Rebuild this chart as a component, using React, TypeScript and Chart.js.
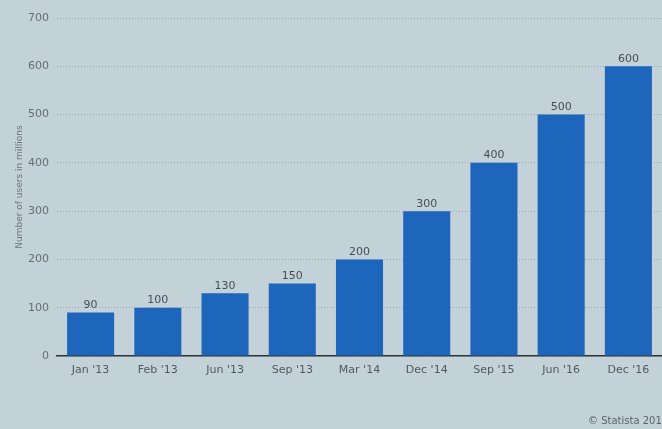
import React, { useEffect, useRef } from "react";
import { Chart, registerables } from "chart.js";

Chart.register(...registerables);

const categories = ["Jan '13", "Feb '13", "Jun '13", "Sep '13", "Mar '14", "Dec '14", "Sep '15", "Jun '16", "Dec '16"];
const users = [90, 100, 130, 150, 200, 300, 400, 500, 600];
const yTicks = [0, 100, 200, 300, 400, 500, 600, 700];
const axisTitle = "Number of users in millions";
const credit = "© Statista 2017";

const FONT = "'DejaVu Sans', sans-serif";

export default function App() {
  const ref = useRef<HTMLCanvasElement | null>(null);
  useEffect(() => {
    document.body.style.margin = "0";
    const canvas = ref.current!;
    const bgPlugin = {
      id: "bg",
      beforeDraw(chart: any) {
        const { ctx, width, height } = chart;
        ctx.save();
        ctx.fillStyle = "#c2d2d8";
        ctx.fillRect(0, 0, width, height);
        ctx.restore();
      },
    };
    const labelPlugin = {
      id: "labels",
      afterDatasetsDraw(chart: any) {
        const { ctx } = chart;
        const meta = chart.getDatasetMeta(0);
        ctx.save();
        ctx.font = `11px ${FONT}`;
        ctx.fillStyle = "#464e53";
        ctx.textAlign = "center";
        ctx.textBaseline = "bottom";
        meta.data.forEach((bar: any, i: number) => {
          ctx.fillText(String(users[i]), bar.x, bar.y - 2);
        });
        const area = chart.chartArea;
        ctx.font = `9px ${FONT}`;
        ctx.fillStyle = "#6a7479";
        ctx.textBaseline = "middle";
        ctx.translate(20, (area.top + area.bottom) / 2);
        ctx.rotate(-Math.PI / 2);
        ctx.fillText(axisTitle, 0, 0);
        ctx.restore();
        ctx.save();
        ctx.font = `10px ${FONT}`;
        ctx.fillStyle = "#5a6267";
        ctx.textAlign = "left";
        ctx.textBaseline = "alphabetic";
        ctx.fillText(credit, 588, 424);
        ctx.restore();
      },
    };
    const chart = new Chart(canvas, {
      type: "bar",
      data: {
        labels: categories,
        datasets: [
          {
            data: users,
            backgroundColor: "#1e66bb",
            barPercentage: 0.7,
            categoryPercentage: 1,
          },
        ],
      },
      options: {
        animation: false,
        responsive: false,
        maintainAspectRatio: false,
        layout: { padding: { top: 18, right: -2, left: 0, bottom: 0 } },
        plugins: { legend: { display: false }, tooltip: { enabled: false } },
        scales: {
          x: {
            grid: { display: false, drawTicks: false },
            border: { display: true, color: "#2e3438", width: 1.5 },
            ticks: { font: { family: FONT, size: 11 }, color: "#525a5f", padding: 8, maxRotation: 0 },
            afterFit(scale: any) {
              scale.height = 73;
            },
          },
          y: {
            min: 0,
            max: 700,
            afterBuildTicks(scale: any) {
              scale.ticks = yTicks.map((v) => ({ value: v }));
            },
            grid: { color: "#98a6ac", lineWidth: 1, drawTicks: false },
            border: { display: false, dash: [1, 2] },
            ticks: { font: { family: FONT, size: 11 }, color: "#666e73", padding: 8 },
            afterFit(scale: any) {
              scale.width = 57;
            },
          },
        },
      },
      plugins: [bgPlugin, labelPlugin],
    });
    return () => chart.destroy();
  }, []);
  return (
    <div style={{ width: 662, height: 429 }}>
      <canvas ref={ref} width={662} height={429} style={{ display: "block" }} />
    </div>
  );
}
